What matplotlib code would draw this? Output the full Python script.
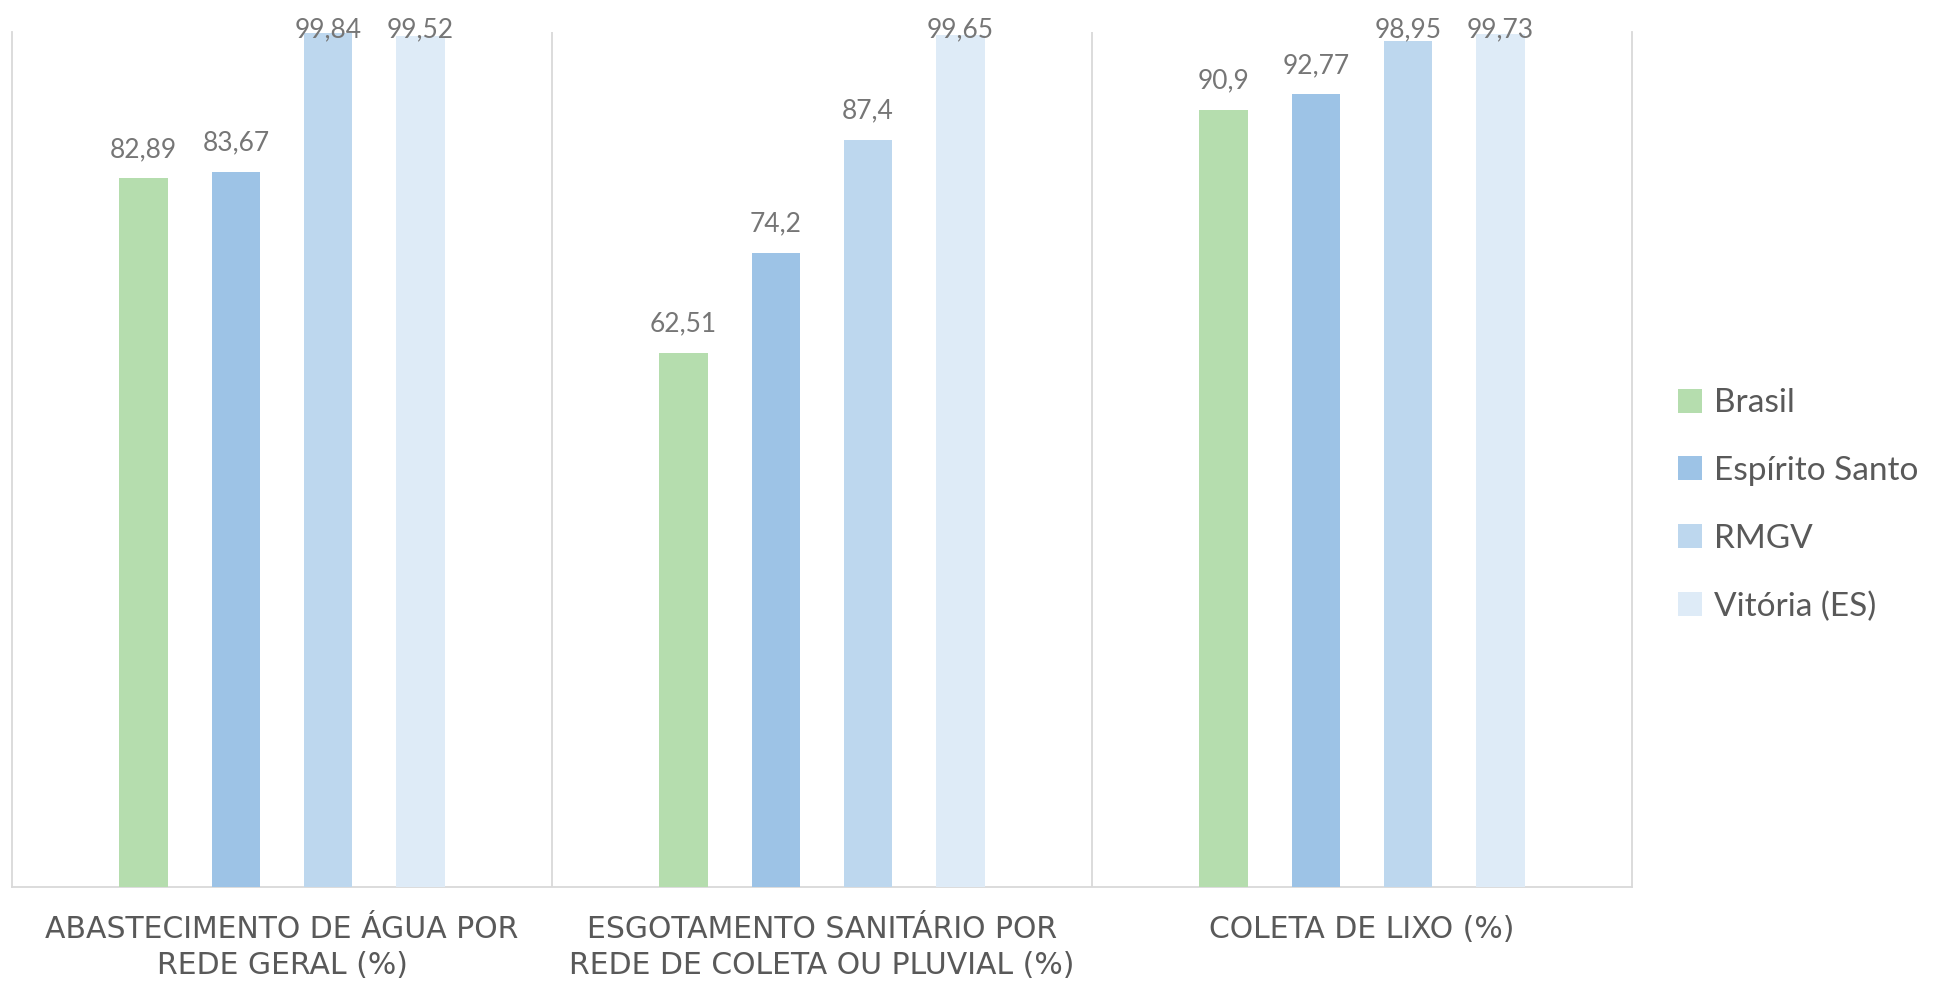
import numpy as np
import matplotlib
matplotlib.use("Agg")
import matplotlib.pyplot as plt

categories = ["ABASTECIMENTO DE ÁGUA POR\nREDE GERAL (%)",
              "ESGOTAMENTO SANITÁRIO POR\nREDE DE COLETA OU PLUVIAL (%)",
              "COLETA DE LIXO (%)"]
series = ["Brasil", "Espírito Santo", "RMGV", "Vitória (ES)"]
brasil = [82.89, 62.51, 90.9]
espirito_santo = [83.67, 74.2, 92.77]
rmgv = [99.84, 87.4, 98.95]
vitoria = [99.52, 99.65, 99.73]
labels = [["82,89", "62,51", "90,9"],
          ["83,67", "74,2", "92,77"],
          ["99,84", "87,4", "98,95"],
          ["99,52", "99,65", "99,73"]]
colors = ["#B5DDAE", "#9DC3E6", "#BDD7EE", "#DEEBF7"]

plt.rcParams['font.family'] = ['Lato', 'DejaVu Sans']

fig = plt.figure(figsize=(19.57, 9.81), dpi=100)
ax = fig.add_axes([12/1957, 1-887/981, (1632-12)/1957, (887-32)/981])

x = np.arange(len(categories))
step = 0.171
width = 0.089
values = [brasil, espirito_santo, rmgv, vitoria]
# data labels sit ~21px above the bar, but are kept inside the chart area
px_per_unit = 855 / 100
gap = 21 / px_per_unit
label_max = 100 - 5 / px_per_unit
for i, (name, vals) in enumerate(zip(series, values)):
    pos = x + (i - 1.5) * step
    bars = ax.bar(pos, vals, width, color=colors[i], label=name, zorder=3)
    for b, lab in zip(bars, labels[i]):
        y = min(b.get_height() + gap, label_max)
        ax.text(b.get_x() + b.get_width()/2, y, lab, ha="center",
                va="baseline", fontsize=19, color="#767676", zorder=4,
                clip_on=False)

ax.set_xlim(-0.5, 2.5)
ax.set_ylim(0, 100)
ax.set_yticks([])
ax.set_xticks(x)
ax.set_xticklabels(categories, fontsize=21.5, color="#595959",
                   family="DejaVu Sans", linespacing=1.33)
ax.tick_params(axis="x", length=0, pad=20)
for xv in [0.5, 1.5]:
    ax.axvline(xv, color="#D9D9D9", lw=1.3, zorder=1)
for s in ["top", "right"]:
    ax.spines[s].set_visible(False)
for s in ["left", "right", "bottom"]:
    ax.spines[s].set_color("#D9D9D9")
    ax.spines[s].set_linewidth(1.3)
ax.spines["right"].set_visible(True)

leg = fig.legend(loc="center left", bbox_to_anchor=(1648/1957, 1-505/981),
                 frameon=False, fontsize=24, labelcolor="#595959",
                 handlelength=0.72, handleheight=0.72, handletextpad=0.36,
                 labelspacing=1.13)

fig.savefig("out.png", dpi=100)
